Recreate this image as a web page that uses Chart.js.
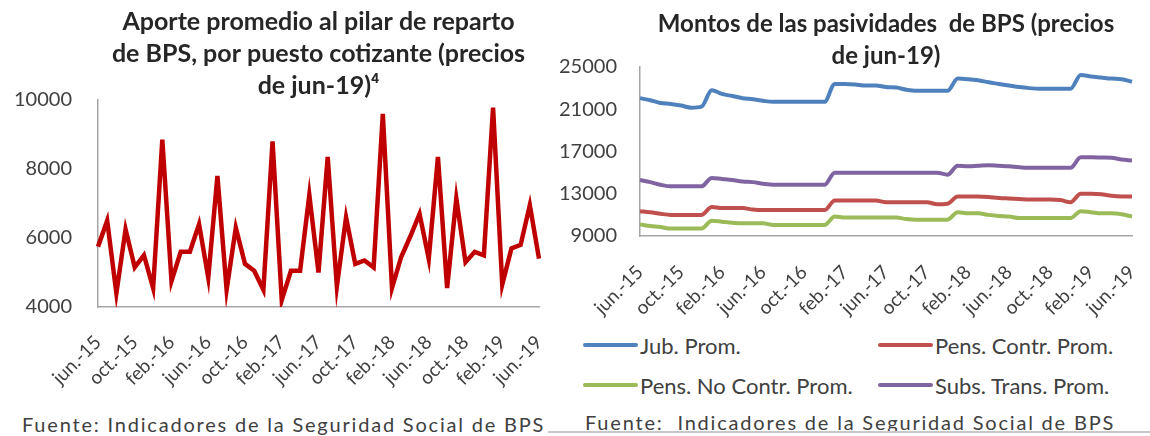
<!DOCTYPE html>
<html>
<head>
<meta charset="utf-8">
<script src="https://cdn.jsdelivr.net/npm/chart.js@4.4.1/dist/chart.umd.min.js"></script>
<style>
  body { margin: 0; background: #fff; }
  #wrap { position: relative; width: 1150px; height: 436px; overflow: hidden; background: #fff; font-family: Lato, sans-serif; }
  .box { position: absolute; top: 0; }
  .fuente { position: absolute; font-size: 20px; letter-spacing: 1.8px; color: #404040; white-space: pre; line-height: 24px; }
  #legend { position: absolute; left: 583px; top: 333px; display: grid; grid-template-columns: 295px auto; grid-auto-rows: 40px; font-size: 22px; color: #404040; }
  #legend .item { display: flex; align-items: center; height: 24px; }
  #legend .swatch { width: 55px; height: 4px; border-radius: 2px; margin-right: 2px; }
  #rule { position: absolute; left: 548px; top: 431px; width: 602px; height: 2px; background: #c8c8c8; }
</style>
</head>
<body>
<div id="wrap">
  <div class="box" style="left:0;width:555px;height:400px"><canvas id="aporteChart" width="555" height="400"></canvas></div>
  <div class="box" style="left:555px;width:595px;height:330px"><canvas id="pasivChart" width="595" height="330"></canvas></div>
  <div id="legend"></div>
  <div class="fuente" style="left:22px;top:412px">Fuente: Indicadores de la Seguridad Social de BPS</div>
  <div class="fuente" style="left:585px;top:410px">Fuente:  Indicadores de la Seguridad Social de BPS</div>
  <div id="rule"></div>
</div>
<script>
// monthly categories jun-15 .. jun-19
const months = [
  'jun.-15', 'jul.-15', 'ago.-15', 'sep.-15', 'oct.-15', 'nov.-15', 'dic.-15',
  'ene.-16', 'feb.-16', 'mar.-16', 'abr.-16', 'may.-16', 'jun.-16', 'jul.-16', 'ago.-16', 'sep.-16', 'oct.-16', 'nov.-16', 'dic.-16',
  'ene.-17', 'feb.-17', 'mar.-17', 'abr.-17', 'may.-17', 'jun.-17', 'jul.-17', 'ago.-17', 'sep.-17', 'oct.-17', 'nov.-17', 'dic.-17',
  'ene.-18', 'feb.-18', 'mar.-18', 'abr.-18', 'may.-18', 'jun.-18', 'jul.-18', 'ago.-18', 'sep.-18', 'oct.-18', 'nov.-18', 'dic.-18',
  'ene.-19', 'feb.-19', 'mar.-19', 'abr.-19', 'may.-19', 'jun.-19'
];
// only every 4th month gets a label
const shownTicks = ['jun.-15', 'oct.-15', 'feb.-16', 'jun.-16', 'oct.-16', 'feb.-17', 'jun.-17',
  'oct.-17', 'feb.-18', 'jun.-18', 'oct.-18', 'feb.-19', 'jun.-19'];

const aporte = [5750, 6500, 4400, 6250, 5150, 5500, 4550, 8850, 4750, 5600,
  5600, 6400, 4850, 7800, 4500, 6300, 5250, 5050, 4500, 8800,
  4200, 5050, 5050, 7250, 5000, 8350, 4600, 6600, 5250, 5350,
  5150, 9600, 4550, 5450, 6050, 6700, 5400, 8350, 4550, 7150,
  5300, 5600, 5500, 9780, 4650, 5700, 5800, 6950, 5400];

const jubProm = [22050, 21850, 21600, 21500, 21350, 21150, 21250, 22800, 22450, 22250,
  22050, 21950, 21800, 21700, 21700, 21700, 21700, 21700, 21700, 23400,
  23400, 23350, 23250, 23250, 23100, 23050, 22850, 22750, 22750, 22750,
  22750, 23900, 23850, 23750, 23550, 23400, 23250, 23100, 23000, 22950,
  22950, 22950, 22950, 24250, 24100, 24000, 23900, 23850, 23600];
const pensContr = [11350, 11250, 11100, 11000, 11000, 11000, 11000, 11750, 11650, 11650,
  11650, 11500, 11450, 11450, 11450, 11450, 11450, 11450, 11450, 12350,
  12350, 12350, 12350, 12350, 12200, 12200, 12200, 12200, 12200, 12000,
  12050, 12750, 12750, 12750, 12700, 12600, 12550, 12500, 12450, 12450,
  12450, 12400, 12200, 13000, 13000, 12950, 12800, 12750, 12750];
const pensNoContr = [10100, 9950, 9850, 9700, 9700, 9700, 9700, 10450, 10350, 10250,
  10200, 10200, 10200, 10050, 10050, 10050, 10050, 10050, 10050, 10850,
  10750, 10750, 10750, 10750, 10750, 10750, 10600, 10550, 10550, 10550,
  10550, 11250, 11150, 11150, 11000, 10900, 10850, 10700, 10700, 10700,
  10700, 10700, 10700, 11350, 11250, 11150, 11150, 11050, 10850];
const subsTrans = [14300, 14100, 13850, 13700, 13700, 13700, 13700, 14500, 14400, 14300,
  14150, 14100, 13950, 13850, 13850, 13850, 13850, 13850, 13850, 15000,
  15000, 15000, 15000, 15000, 15000, 15000, 15000, 15000, 15000, 15000,
  14800, 15650, 15600, 15650, 15700, 15650, 15600, 15500, 15450, 15450,
  15450, 15450, 15450, 16450, 16450, 16430, 16400, 16250, 16150];

const textColor = '#404040';
const axisColor = '#a6a6a6';

function xAxis(height, pad) {
  return {
    grid: { display: false, drawTicks: false },
    border: { display: true, color: axisColor, width: 1.5 },
    ticks: {
      autoSkip: false, minRotation: 45, maxRotation: 45, padding: pad,
      color: textColor, font: { family: 'Lato', size: 19 },
      callback: function(value, index) {
        const lbl = months[index];
        return shownTicks.includes(lbl) ? lbl : null;
      }
    },
    afterFit: scale => {
      scale.height = height;
      // rotated labels end at the tick, no side padding needed
      scale.paddingLeft = 0;
      scale.paddingRight = 0;
    }
  };
}

function yAxis(min, max, step, width, pad) {
  return {
    min: min, max: max,
    grid: { display: false, drawTicks: false },
    border: { display: true, color: axisColor, width: 1.5 },
    ticks: {
      stepSize: step, padding: pad, color: textColor, font: { family: 'Lato', size: 20 },
      callback: v => String(v)
    },
    afterFit: scale => { scale.width = width; }
  };
}

// Left chart: aporte promedio
new Chart(document.getElementById('aporteChart'), {
  type: 'line',
  data: {
    labels: months,
    datasets: [{
      label: 'Aporte promedio',
      data: aporte,
      borderColor: '#C00000',
      borderWidth: 4.5,
      pointRadius: 0,
      tension: 0
    }]
  },
  options: {
    responsive: false,
    animation: false,
    layout: { padding: { left: 0, right: 16, top: 0, bottom: 0 } },
    plugins: {
      legend: { display: false },
      tooltip: { enabled: false },
      title: {
        display: true,
        fullSize: false,
        text: ['Aporte promedio al pilar de reparto', 'de BPS, por puesto cotizante (precios', 'de jun-19)⁴'],
        color: '#262626',
        font: { family: 'Lato', size: 25, weight: 'bold', lineHeight: '32px' },
        padding: { top: 6, bottom: -2 }
      }
    },
    scales: {
      x: xAxis(93, 24),
      y: yAxis(4000, 10000, 2000, 98, 26)
    }
  }
});

// Right chart: montos de las pasividades
const pasivChart = new Chart(document.getElementById('pasivChart'), {
  type: 'line',
  data: {
    labels: months,
    datasets: [
      { label: 'Jub. Prom.', data: jubProm, borderColor: '#4F81BD' },
      { label: 'Pens. Contr. Prom.', data: pensContr, borderColor: '#C0504D' },
      { label: 'Pens. No Contr. Prom.', data: pensNoContr, borderColor: '#9BBB59' },
      { label: 'Subs. Trans. Prom.', data: subsTrans, borderColor: '#8064A2' }
    ].map(ds => Object.assign(ds, { borderWidth: 4, pointRadius: 0, cubicInterpolationMode: 'monotone' }))
  },
  options: {
    responsive: false,
    animation: false,
    layout: { padding: { left: 0, right: 18, top: 0, bottom: 0 } },
    plugins: {
      legend: { display: false },
      tooltip: { enabled: false },
      title: {
        display: true,
        fullSize: false,
        text: ['Montos de las pasividades  de BPS (precios', 'de jun-19)'],
        color: '#262626',
        font: { family: 'Lato', size: 24, weight: 'bold', lineHeight: '32px' },
        padding: { top: 8, bottom: -5 }
      }
    },
    scales: {
      x: xAxis(94, 25),
      y: yAxis(9000, 25000, 4000, 85, 23)
    }
  }
});

// HTML legend in a 2x2 grid, built from the datasets
const legendEl = document.getElementById('legend');
pasivChart.data.datasets.forEach(ds => {
  const item = document.createElement('div');
  item.className = 'item';
  const sw = document.createElement('span');
  sw.className = 'swatch';
  sw.style.background = ds.borderColor;
  const txt = document.createElement('span');
  txt.textContent = ds.label;
  item.appendChild(sw);
  item.appendChild(txt);
  legendEl.appendChild(item);
});
</script>
</body>
</html>
